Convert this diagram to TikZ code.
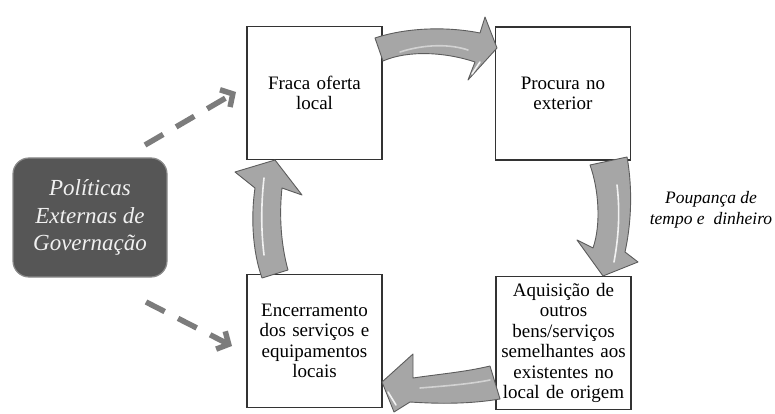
\documentclass[tikz,border=0pt]{standalone}
\usepackage{fontspec}
\setmainfont{Liberation Serif}
\usetikzlibrary{arrows.meta}
\definecolor{boxline}{HTML}{333333}
\definecolor{polfill}{HTML}{565656}
\definecolor{polline}{HTML}{8A8A8A}
\definecolor{dashgrey}{HTML}{7C7C7C}
\definecolor{bodygrey}{HTML}{A6A6A6}
\definecolor{bodyline}{HTML}{5C5C5C}
\begin{document}
\begin{tikzpicture}[x=1pt,y=-1pt,
  stagebox/.style={draw=boxline, line width=1.8pt, fill=white,
    minimum width=135pt, minimum height=133pt, inner sep=0pt,
    align=center, text width=133pt,
    font=\fontsize{19}{20.5}\selectfont},
  policybox/.style={draw=polline, line width=1.2pt, fill=polfill,
    rounded corners=16pt, minimum width=154pt, minimum height=119pt,
    align=center, text=white!94!black,
    font=\fontsize{23}{27.5}\selectfont\itshape},
  notetext/.style={align=center, font=\fontsize{17.5}{20.5}\selectfont\itshape},
  dasharrow/.style={draw=dashgrey, line width=5.5pt, dash pattern=on 21pt off 15pt,
    -{Straight Barb[length=9pt,width=20pt,line width=5.5pt]}},
  blockarrow/.style={fill=bodygrey, draw=bodyline, line width=0.9pt, line join=round},
  gleam/.style={draw=white, line width=1.6pt, opacity=0.85, line cap=round}
]
\useasboundingbox (0,0) rectangle (775,414);

% the four stages of the cycle
\node[stagebox] (f) at (314.5,93)  {Fraca oferta\\local};
\node[stagebox] (p) at (563,93.5)  {Procura no\\exterior};
\node[stagebox] (a) at (563.5,343) {Aquisição de\\outros\\bens/serviços\\semelhantes aos\\existentes no\\local de origem};
\node[stagebox] (e) at (314.5,341) {Encerramento\\dos serviços e\\equipamentos\\locais};

% external policy box
\node[policybox] (pol) at (90,217.5) {Políticas\\Externas de\\Governação};

% side note
\node[notetext] (note) at (711,210) {Poupança de\\tempo e\ \ dinheiro};

% dashed influence arrows
\coordinate (d1s) at (145,145);
\coordinate (d1e) at (236,92);
\coordinate (d2s) at (146,302);
\coordinate (d2e) at (232,346);
\draw[dasharrow] (d1s) -- (d1e);
\draw[dasharrow] (d2s) -- (d2e);

% curved block arrows of the cycle
% f -> p
\path[blockarrow] (375,38) .. controls (405,28) and (445,26) .. (480,33)
  -- (485,17) -- (497,48) -- (468,80) -- (475,62)
  .. controls (445,52) and (408,50) .. (383,61) -- cycle;
\draw[gleam] (472,74) -- (480,62);
\draw[gleam, opacity=0.5] (400,52) .. controls (425,44) and (450,44) .. (468,50);
% p -> a
\path[blockarrow] (590,165) -- (627,157)
  .. controls (633,190) and (631,225) .. (625,252)
  -- (638,262) -- (603,276) -- (577,240) -- (593,248)
  .. controls (601,225) and (599,190) .. (590,165) -- cycle;
\draw[gleam] (617,185) .. controls (620,210) and (619,235) .. (614,262);
% a -> e
\path[blockarrow] (490,366) .. controls (465,372) and (440,374) .. (413,378)
  -- (413,354) -- (382,382) -- (394,412) -- (410,402)
  .. controls (440,404) and (470,404) .. (500,399) -- cycle;
\draw[gleam] (388,392) -- (396,405);
\draw[gleam, opacity=0.5] (420,388) .. controls (445,386) and (470,384) .. (490,380);
% e -> f
\path[blockarrow] (262,278) .. controls (252,250) and (251,215) .. (255,188)
  -- (235,172) -- (275,160) -- (302,195) -- (282,188)
  .. controls (279,215) and (281,245) .. (288,270) -- cycle;
\draw[gleam] (264,255) .. controls (261,230) and (261,205) .. (264,178);
\end{tikzpicture}
\end{document}
